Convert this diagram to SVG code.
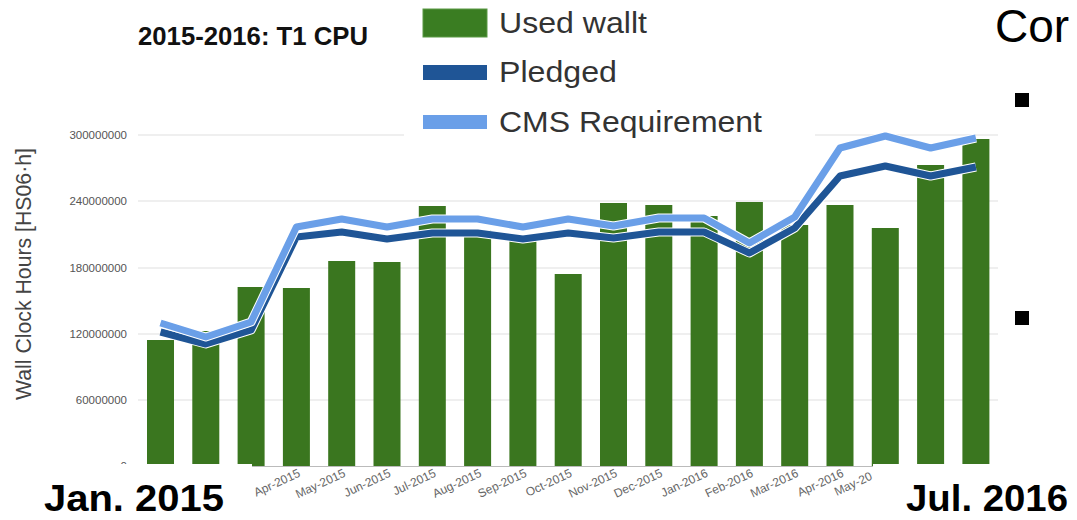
<svg xmlns="http://www.w3.org/2000/svg" width="1077" height="520" viewBox="0 0 1077 520">
<style>
.grid{stroke:#e0e0e0;stroke-width:1.2}
.bar{fill:#3a761f}
.ylab{font-family:"Liberation Sans",Arial,sans-serif;font-size:11.5px;fill:#555;text-anchor:end}
.xlab{font-family:"Liberation Sans",Arial,sans-serif;font-size:12px;fill:#666;text-anchor:end}
.leg{font-family:"Liberation Sans",Arial,sans-serif;font-size:30px;fill:#333}
.big{font-family:"Liberation Sans",Arial,sans-serif;font-weight:bold;font-size:37px;fill:#000}
.halo{fill:none;stroke:#fff;stroke-width:9;stroke-linejoin:round}
</style>
<rect width="1077" height="520" fill="#fff"/>
<g id="gridlines">
<line class="grid" x1="138" y1="135" x2="998" y2="135"/>
<line class="grid" x1="138" y1="201" x2="998" y2="201"/>
<line class="grid" x1="138" y1="268" x2="998" y2="268"/>
<line class="grid" x1="138" y1="334" x2="998" y2="334"/>
<line class="grid" x1="138" y1="400" x2="998" y2="400"/>
</g>
<g id="title"><text x="138" y="45" font-family="Liberation Sans,Arial,sans-serif" font-weight="bold" font-size="25" textLength="230" lengthAdjust="spacingAndGlyphs" fill="#111">2015-2016: T1 CPU</text></g>
<g id="yaxis">
<text class="ylab" x="127" y="139">300000000</text>
<text class="ylab" x="127" y="205">240000000</text>
<text class="ylab" x="127" y="272">180000000</text>
<text class="ylab" x="127" y="338">120000000</text>
<text class="ylab" x="127" y="404">60000000</text>
<text class="ylab" x="127" y="470">0</text>
<text transform="translate(31,274) rotate(-90)" text-anchor="middle" font-family="Liberation Sans,Arial,sans-serif" font-size="21.5" textLength="252" lengthAdjust="spacingAndGlyphs" fill="#444">Wall Clock Hours [HS06·h]</text>
</g>
<g id="bars">
<rect class="bar" x="147" y="340" width="27" height="126"/>
<rect class="bar" x="192.3" y="331" width="27" height="135"/>
<rect class="bar" x="237.6" y="287" width="27" height="179"/>
<rect class="bar" x="282.9" y="288" width="27" height="178"/>
<rect class="bar" x="328.2" y="261" width="27" height="205"/>
<rect class="bar" x="373.5" y="262" width="27" height="204"/>
<rect class="bar" x="418.8" y="206" width="27" height="260"/>
<rect class="bar" x="464.1" y="230" width="27" height="236"/>
<rect class="bar" x="509.4" y="240" width="27" height="226"/>
<rect class="bar" x="554.7" y="274" width="27" height="192"/>
<rect class="bar" x="600" y="203" width="27" height="263"/>
<rect class="bar" x="645.3" y="205" width="27" height="261"/>
<rect class="bar" x="690.6" y="216" width="27" height="250"/>
<rect class="bar" x="735.9" y="202" width="27" height="264"/>
<rect class="bar" x="781.2" y="225" width="27" height="241"/>
<rect class="bar" x="826.5" y="205" width="27" height="261"/>
<rect class="bar" x="871.8" y="228" width="27" height="238"/>
<rect class="bar" x="917.1" y="165" width="27" height="301"/>
<rect class="bar" x="962.4" y="139" width="27" height="327"/>
</g>
<line id="baseline" x1="138" y1="466.5" x2="990" y2="466.5" stroke="#bbb" stroke-width="1.2"/>
<g id="lines">
<polyline class="halo" points="160.5,332 205.8,344 251.1,330 296.4,237 341.7,232 387,239 432.3,233 477.6,233 522.9,239 568.2,233 613.5,238 658.8,232 704.1,232 749.4,253 794.7,228 840,176 885.3,166 930.6,176 975.9,167"/>
<polyline fill="none" stroke="#1f5596" stroke-width="7" stroke-linejoin="round" points="160.5,332 205.8,344 251.1,330 296.4,237 341.7,232 387,239 432.3,233 477.6,233 522.9,239 568.2,233 613.5,238 658.8,232 704.1,232 749.4,253 794.7,228 840,176 885.3,166 930.6,176 975.9,167"/>
<polyline class="halo" points="160.5,323 205.8,337 251.1,322 296.4,227 341.7,219 387,227 432.3,219 477.6,219 522.9,227 568.2,219 613.5,226 658.8,218 704.1,218 749.4,243 794.7,217 840,148 885.3,136 930.6,148 975.9,138"/>
<polyline fill="none" stroke="#6a9fe8" stroke-width="7" stroke-linejoin="round" points="160.5,323 205.8,337 251.1,322 296.4,227 341.7,219 387,227 432.3,219 477.6,219 522.9,227 568.2,219 613.5,226 658.8,218 704.1,218 749.4,243 794.7,217 840,148 885.3,136 930.6,148 975.9,138"/>
</g>
<g id="legend">
<rect x="404" y="0" width="411" height="140" fill="#fff"/>
<rect x="423" y="9" width="64" height="28" fill="#3a7d22" stroke="#5a9a45" stroke-width="1"/>
<text class="leg" x="499" y="33" textLength="148" lengthAdjust="spacingAndGlyphs">Used wallt</text>
<rect x="423" y="65" width="64" height="15" fill="#1f5596"/>
<text class="leg" x="499" y="82" textLength="118" lengthAdjust="spacingAndGlyphs">Pledged</text>
<rect x="423" y="115" width="64" height="14" fill="#6a9fe8"/>
<text class="leg" x="499" y="132" textLength="263" lengthAdjust="spacingAndGlyphs">CMS Requirement</text>
</g>
<g id="xaxis">
<text class="xlab" transform="translate(301,476) rotate(-25)">Apr-2015</text>
<text class="xlab" transform="translate(346.3,476) rotate(-25)">May-2015</text>
<text class="xlab" transform="translate(391.6,476) rotate(-25)">Jun-2015</text>
<text class="xlab" transform="translate(436.9,476) rotate(-25)">Jul-2015</text>
<text class="xlab" transform="translate(482.2,476) rotate(-25)">Aug-2015</text>
<text class="xlab" transform="translate(527.5,476) rotate(-25)">Sep-2015</text>
<text class="xlab" transform="translate(572.8,476) rotate(-25)">Oct-2015</text>
<text class="xlab" transform="translate(618.1,476) rotate(-25)">Nov-2015</text>
<text class="xlab" transform="translate(663.4,476) rotate(-25)">Dec-2015</text>
<text class="xlab" transform="translate(708.7,476) rotate(-25)">Jan-2016</text>
<text class="xlab" transform="translate(754,476) rotate(-25)">Feb-2016</text>
<text class="xlab" transform="translate(799.3,476) rotate(-25)">Mar-2016</text>
<text class="xlab" transform="translate(844.6,476) rotate(-25)">Apr-2016</text>
<text class="xlab" transform="translate(873,479) rotate(-25)">May-20</text>
</g>
<g id="label-jan">
<rect x="0" y="464" width="252" height="56" fill="#fff"/>
<text class="big" x="44" y="511" textLength="180" lengthAdjust="spacingAndGlyphs">Jan. 2015</text>
</g>
<g id="label-jul">
<rect x="873" y="464" width="204" height="56" fill="#fff"/>
<text class="big" x="906" y="511" textLength="162" lengthAdjust="spacingAndGlyphs">Jul. 2016</text>
</g>
<g id="slide-text">
<text x="995" y="42" font-family="Liberation Sans,Arial,sans-serif" font-size="46" fill="#000">Cor</text>
<rect x="1015" y="93" width="14" height="14" fill="#000"/>
<rect x="1015" y="311" width="14" height="14" fill="#000"/>
</g>
</svg>
